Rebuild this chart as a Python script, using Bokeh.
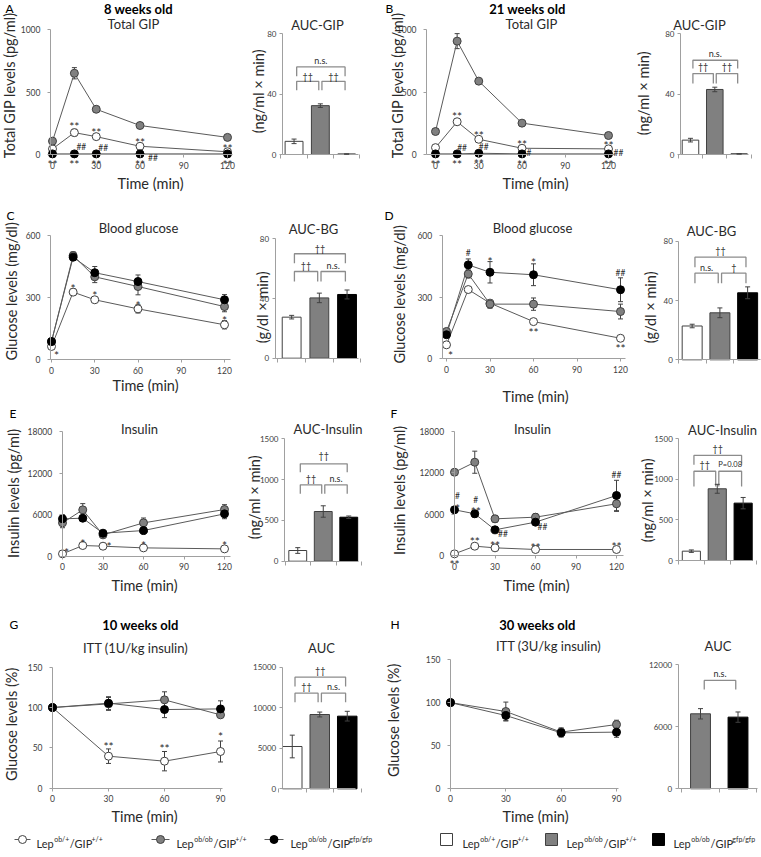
import types
from bokeh.plotting import figure
from bokeh.models import (ColumnDataSource, Whisker, LabelSet, Label, FixedTicker,
                          Range1d, TeeHead)
from bokeh.layouts import column, row
from bokeh.embed import file_html
from bokeh.resources import INLINE
from bokeh.core.properties import value

# ======================= DATA =======================
t_ogtt = [0, 15, 30, 60, 120]
t_itt = [0, 30, 60, 90]
ogtt_xticks = [0, 30, 60, 90, 120]
itt_xticks = [0, 30, 60, 90]

geno_sup = [("ob/+", "+/+"), ("ob/ob", "+/+"), ("ob/ob", "gfp/gfp")]

# A: total GIP, 8 weeks (pg/ml)
gip8_w = [45, 175, 143, 66, 22]
gip8_w_se = [8, 27, 10, 6, 5]
gip8_g = [107, 650, 362, 232, 137]
gip8_g_se = [10, 45, 22, 10, 8]
gip8_b = [5, 5, 5, 5, 5]
gip8_b_se = [1, 1, 1, 1, 1]
auc_gip8 = [8.7, 32.3, 0.3]
auc_gip8_se = [1.5, 1.2, 0.1]

# B: total GIP, 21 weeks
gip21_w = [55, 262, 122, 50, 45]
gip21_w_se = [5, 15, 8, 5, 5]
gip21_g = [184, 907, 587, 251, 152]
gip21_g_se = [12, 60, 22, 10, 8]
gip21_b = [5, 5, 10, 5, 5]
gip21_b_se = [1, 1, 2, 1, 1]
auc_gip21 = [9.5, 43.0, 0.4]
auc_gip21_se = [1.2, 1.5, 0.1]

# C: blood glucose, 8 weeks (mg/dl)
bg8_w = [63, 326, 289, 245, 168]
bg8_w_se = [5, 15, 12, 20, 20]
bg8_g = [87, 503, 400, 353, 256]
bg8_g_se = [8, 18, 28, 40, 25]
bg8_b = [87, 495, 420, 377, 289]
bg8_b_se = [8, 15, 30, 32, 25]
auc_bg8 = [27.5, 40.4, 42.7]
auc_bg8_se = [1.2, 3.2, 3.0]

# D: blood glucose, 21 weeks
bg21_w = [68, 337, 271, 181, 100]
bg21_w_se = [5, 12, 12, 10, 6]
bg21_g = [133, 413, 266, 266, 230]
bg21_g_se = [10, 20, 20, 30, 36]
bg21_b = [117, 457, 421, 409, 336]
bg21_b_se = [10, 29, 52, 53, 58]
auc_bg21 = [22.8, 31.7, 45.2]
auc_bg21_se = [1.2, 3.3, 4.0]

# E: insulin, 8 weeks (pg/ml)
ins8_w = [340, 1540, 1444, 1203, 1059]
ins8_w_se = [80, 250, 150, 150, 100]
ins8_g = [4812, 6690, 3080, 4812, 6737]
ins8_g_se = [700, 900, 300, 700, 700]
ins8_b = [5390, 5486, 3320, 3705, 6112]
ins8_b_se = [600, 400, 300, 300, 700]
auc_ins8 = [131, 609, 539]
auc_ins8_se = [35, 70, 15]

# F: insulin, 21 weeks
ins21_w = [240, 1350, 1110, 870, 870]
ins21_w_se = [50, 150, 150, 100, 100]
ins21_g = [12060, 13510, 5310, 5550, 7490]
ins21_g_se = [200, 1600, 500, 500, 1100]
ins21_b = [6620, 6040, 3720, 4830, 8690]
ins21_b_se = [300, 500, 300, 400, 2200]
auc_ins21 = [115, 884, 707]
auc_ins21_se = [15, 55, 70]

# G: ITT 1U/kg, 10 weeks (%)
itt10_w = [100, 39.7, 33.5, 45.5]
itt10_w_se = [0, 9, 12, 13]
itt10_g = [100, 104.5, 109.5, 90.9]
itt10_g_se = [0, 8, 10, 3]
itt10_b = [100, 105.4, 97.5, 98.3]
itt10_b_se = [0, 8, 10, 10]
auc_itt10 = [5219, 9165, 8960]
auc_itt10_se = [1400, 300, 600]

# H: ITT 3U/kg, 30 weeks
itt30_g = [100, 89.6, 65.5, 74.4]
itt30_g_se = [0, 11, 5, 5]
itt30_b = [100, 84.9, 64.7, 65.5]
itt30_b_se = [0, 6, 5, 6]
auc_itt30 = [7258, 6935]
auc_itt30_se = [500, 500]

gip_yticks = [0, 500, 1000]
auc40_yticks = [0, 40, 80]
bg_yticks = [0, 300, 600]
ins_yticks = [0, 6000, 12000, 18000]
auc_ins_yticks = [0, 500, 1000, 1500]
itt_yticks = [0, 50, 100, 150]
auc_itt10_yticks = [0, 5000, 10000, 15000]
auc_itt30_yticks = [0, 6000, 12000]

# significance marks: (series, time, text, dx px, dy px up)
sig_A = [("w", 15, "**", 0, 10), ("w", 30, "**", 0, 8), ("w", 60, "**", 0, 7), ("w", 120, "**", 0, 7),
         ("b", 0, "**", 0, -7), ("b", 15, "**", 0, -7), ("b", 30, "**", 0, -7), ("b", 60, "**", 0, -7),
         ("b", 120, "**", 0, -7), ("b", 15, "##", 7, 7), ("b", 30, "##", 7, 6), ("b", 60, "##", 13, -4)]
sig_B = [("w", 15, "**", 0, 9), ("w", 30, "**", 0, 7), ("w", 60, "**", 0, 7), ("w", 120, "**", 0, 7),
         ("b", 0, "**", 0, -7), ("b", 15, "**", 0, -7), ("b", 30, "**", 0, -7), ("b", 60, "**", 0, -7),
         ("b", 120, "**", 0, -7), ("b", 15, "##", 5, 6), ("b", 30, "##", 5, 6), ("b", 60, "#", 7, 1),
         ("b", 120, "##", 10, 1)]
sig_C = [("w", 0, "*", 5, -6), ("w", 15, "*", 0, 7), ("w", 30, "*", 0, 8), ("w", 60, "*", 0, 7),
         ("w", 120, "*", 0, 8)]
sig_D = [("b", 15, "#", 0, 12), ("b", 30, "*", 0, 14), ("b", 60, "*", 0, 16), ("b", 120, "##", 0, 17),
         ("w", 60, "**", 0, -7), ("w", 120, "**", 0, -7), ("w", 0, "*", 4, -7)]
sig_E = [("w", 0, "*", 4, 5), ("w", 15, "*", 0, 6), ("w", 30, "*", 6, 3), ("w", 60, "*", 0, 6),
         ("w", 120, "*", 0, 7)]
sig_F = [("b", 0, "#", 3, 14), ("b", 0, "*", 3, 5), ("b", 15, "#", 1, 14), ("b", 15, "**", 1, 6),
         ("b", 30, "##", 8, -4), ("b", 60, "##", 7, -5), ("b", 120, "##", 0, 20),
         ("w", 0, "**", 0, -7), ("w", 15, "**", 0, 8), ("w", 30, "**", 0, 6), ("w", 60, "**", 0, 5),
         ("w", 120, "**", 0, 6)]
sig_G = [("w", 30, "**", 0, 13), ("w", 60, "**", 0, 16), ("w", 90, "*", 0, 18)]

# brackets: (bar i, bar j, line height, leg bottom, text, text y)  -- in data units
br_A = [(0, 2, 57.9, 51.7, "n.s.", 62.3), (0, 1, 48.4, 42.4, "††", 51.7), (1, 2, 48.4, 42.4, "††", 51.7)]
br_B = [(0, 2, 62.3, 56.8, "n.s.", 66.7), (0, 1, 53.5, 46.9, "††", 57.9), (1, 2, 53.5, 46.9, "††", 57.9)]
br_C = [(0, 2, 70.0, 63.7, "††", 73.6), (0, 1, 58.1, 51.4, "††", 62.4), (1, 2, 58.1, 51.4, "n.s.", 62.4)]
br_D = [(0, 2, 69.2, 62.5, "††", 73.5), (0, 1, 58.4, 51.7, "n.s.", 62.5), (1, 2, 58.4, 51.7, "†", 62.5)]
br_E = [(0, 2, 1193, 1091, "††", 1290), (0, 1, 936, 826, "††", 1015), (1, 2, 936, 826, "n.s.", 1015)]
br_F = [(0, 2, 1295, 1180, "††", 1385), (0, 1, 1100, 912, "††", 1180), (1, 2, 1100, 912, "P=0.08", 1180)]
br_G = [(0, 2, 13768, 12618, "††", 14590), (0, 1, 11796, 10686, "††", 12618),
        (1, 2, 11796, 10686, "n.s.", 12618)]
br_H = [(0, 1, 10484, 9613, "n.s.", 11194)]

# ======================= STYLE =======================
FONT = "Lato"
TXT = "#2a2a2a"
TICK_TXT = "#404040"
AX_COL = "#a0a0a0"
EDGE = "#404040"
LINE_COL = "#5a5a5a"
BRK_COL = "#8c8c8c"
FILL = {"w": "#ffffff", "g": "#808080", "b": "#000000"}
BAR_EDGE = {"w": "#404040", "g": "#404040", "b": "#000000"}
ROT = 1.5707963
TITLE_FS = 13
AXLAB_FS = 14.5
HEAD_FS = 13


def make_panel(box, xcal, ycal, xspine=None, yspine=None):
    """box = page bbox of the figure; xcal/ycal = two (value, page px) pairs.
    The plotting frame covers the whole figure; axes are pinned inside it."""
    x, y, w, h = box
    sx = (xcal[3] - xcal[1]) / (xcal[2] - xcal[0])
    sy = (ycal[3] - ycal[1]) / (ycal[2] - ycal[0])

    def xv(px):
        return xcal[0] + (px - xcal[1]) / sx

    def yv(py):
        return ycal[0] + (py - ycal[1]) / sy

    kw = {}
    if xspine is None:
        kw = dict(x_axis_type=None, y_axis_type=None)
    p = figure(width=w, height=h, x_range=Range1d(xv(x), xv(x + w)), y_range=Range1d(yv(y + h), yv(y)),
               output_backend="svg", toolbar_location=None, title_location=None,
               min_border_left=0, min_border_right=0, min_border_top=0, min_border_bottom=0, **kw)
    p.outline_line_color = None
    if xspine is not None:
        p.grid.visible = False
    return types.SimpleNamespace(fig=p, xv=xv, yv=yv, xs=xspine, ys=yspine)


def put(P, px, py, txt, size, bold=False, align="center", angle=0.0, color=TXT, baseline="middle"):
    P.fig.add_layout(Label(x=P.xv(px), y=P.yv(py), text=txt, text_font=FONT,
                           text_font_size=f"{size}px",
                           text_font_style="bold" if bold else "normal",
                           text_align=align, text_baseline=baseline, angle=angle,
                           text_color=color))


def style_axes(P, xticks, yticks, bar=False):
    p = P.fig
    xs, ys = P.xs, P.ys
    ex = 1e-6 * (xs[1] - xs[0])
    ey = 1e-6 * (ys[1] - ys[0])
    p.xaxis.ticker = FixedTicker(ticks=xticks)
    p.yaxis.ticker = FixedTicker(ticks=yticks)
    p.xaxis.fixed_location = ys[0]
    p.xaxis.bounds = (xs[0] - ex, xs[1] + ex)
    p.yaxis.fixed_location = xs[0]
    p.yaxis.bounds = (ys[0] - ey, ys[1] + ey)
    for ax in list(p.xaxis) + list(p.yaxis):
        ax.axis_line_color = AX_COL
        ax.major_tick_line_color = AX_COL
        ax.minor_tick_line_color = None
        ax.major_tick_in = 0
        ax.major_tick_out = 3
        ax.major_label_text_font = FONT
        ax.major_label_text_font_size = "8.5px"
        ax.major_label_text_color = TICK_TXT
    p.yaxis.major_label_standoff = 7
    p.xaxis.major_label_standoff = 4
    if bar:
        p.xaxis.major_tick_out = 4
        p.xaxis.major_label_overrides = {k: "" for k in xticks}
        p.yaxis.major_label_standoff = 3
        p.yaxis.major_label_text_font_size = "8px"


def whisker(p, xs, vals, se, level="underlay"):
    src = ColumnDataSource(dict(x=list(xs), lo=[v - e for v, e in zip(vals, se)],
                                hi=[v + e for v, e in zip(vals, se)]))
    p.add_layout(Whisker(source=src, base="x", lower="lo", upper="hi", dimension="height",
                         line_color=EDGE, line_width=1, level=level,
                         upper_head=TeeHead(size=5, line_color=EDGE, line_width=1),
                         lower_head=TeeHead(size=5, line_color=EDGE, line_width=1)))


def draw_lines(P, t, series, sigs, xticks, yticks):
    p = P.fig
    style_axes(P, xticks, yticks)
    for key, vals, se in series:
        p.line(t, vals, line_color=LINE_COL, line_width=1)
    for key, vals, se in series:
        whisker(p, t, vals, se)
    for key, vals, se in series:
        p.scatter(t, vals, marker="circle", size=8, fill_color=FILL[key],
                  line_color=("#000000" if key == "b" else EDGE), line_width=1)
    smap = {k: v for k, v, s in series}
    xs, ys, tx, dx, dy, fs = [], [], [], [], [], []
    for key, tt, txt, ox, oy in sigs:
        star = "*" in txt
        xs.append(tt)
        ys.append(smap[key][t.index(tt)])
        tx.append(txt)
        dx.append(ox)
        dy.append(oy - (3.5 if star else 0))
        fs.append("12px" if star else "8.5px")
    if sigs:
        src = ColumnDataSource(dict(x=xs, y=ys, text=tx, dx=dx, dy=dy, fs=fs))
        p.add_layout(LabelSet(source=src, x="x", y="y", text="text", x_offset="dx", y_offset="dy",
                              text_font=value(FONT), text_font_size="fs", text_align="center",
                              text_baseline="middle", text_color=TXT))


def draw_bars(P, vals, se, keys, brackets, yticks, width=0.68):
    p = P.fig
    style_axes(P, list(range(len(vals) + 1)), yticks, bar=True)
    xc = [i + 0.5 for i in range(len(vals))]
    src = ColumnDataSource(dict(x=xc, top=vals, fill=[FILL[k] for k in keys],
                                edge=[BAR_EDGE[k] for k in keys]))
    p.vbar(x="x", top="top", bottom=0, width=width, fill_color="fill", line_color="edge",
           line_width=1, source=src)
    whisker(p, xc, vals, se, level="overlay")
    for i, j, h, leg, txt, ty in brackets:
        xa = xc[i] + (0.1 if i == 0 else 0.06)
        xb = xc[j] - 0.06
        p.line([xa, xa, xb, xb], [leg, h, h, leg], line_color=BRK_COL, line_width=1.3)
        p.add_layout(Label(x=(xa + xb) / 2, y=ty, text=txt, text_font=FONT,
                           text_font_size=("7.5px" if len(txt) > 4 else "9px"),
                           text_align="center", text_baseline="middle", text_color=TXT))


def headers(P, letter, lx, ly, title, tx, ty, ylab=None, yx=None, yy=None, xlab_xy=None,
            sub=None, sx=None):
    put(P, lx, ly, letter, 12, align="left", color="#000000")
    if sub:
        put(P, sx, ly, sub, HEAD_FS, bold=True, color="#000000")
    put(P, tx, ty, title, TITLE_FS)
    if ylab:
        put(P, yx, yy, ylab, AXLAB_FS, angle=ROT)
    if xlab_xy:
        put(P, xlab_xy[0], xlab_xy[1], "Time (min)", AXLAB_FS)


# ======================= ROW 1 (A, B) =======================
PA = make_panel((0, 0, 246, 208), (0, 52, 120, 227), (0, 154, 1000, 29), (-1.4, 123.4), (0, 1000))
draw_lines(PA, t_ogtt, [("w", gip8_w, gip8_w_se), ("g", gip8_g, gip8_g_se), ("b", gip8_b, gip8_b_se)],
           sig_A, ogtt_xticks, gip_yticks)
headers(PA, "A", 5, 8, "Total GIP", 133, 23.5, "Total GIP levels  (pg/ml)", 9, 83, (150, 183),
        sub="8 weeks old", sx=138)

PAb = make_panel((246, 0, 134, 208), (1, 306.7, 2, 333), (0, 154, 80, 33), (0.06, 2.95), (0, 80))
draw_bars(PAb, auc_gip8, auc_gip8_se, ["w", "g", "b"], br_A, auc40_yticks)
put(PAb, 317, 24, "AUC-GIP", TITLE_FS)
put(PAb, 258, 89, "(ng/ml  × min)", AXLAB_FS, angle=ROT)

PB = make_panel((380, 0, 252, 208), (0, 435, 120, 608), (0, 154, 1000, 29), (-6.2, 124.9), (0, 1000))
draw_lines(PB, t_ogtt, [("w", gip21_w, gip21_w_se), ("g", gip21_g, gip21_g_se), ("b", gip21_b, gip21_b_se)],
           sig_B, ogtt_xticks, gip_yticks)
headers(PB, "B", 385, 8, "Total GIP", 531, 23.5, "Total GIP levels  (pg/ml)", 397, 83, (535, 183),
        sub="21 weeks old", sx=527)

PBb = make_panel((632, 0, 129, 208), (0, 677.8, 3, 750.8), (0, 154, 80, 33), (0.09, 2.9), (0, 80))
draw_bars(PBb, auc_gip21, auc_gip21_se, ["w", "g", "b"], br_B, auc40_yticks)
put(PBb, 699, 24, "AUC-GIP", TITLE_FS)
put(PBb, 643, 91, "(ng/ml  × min)", AXLAB_FS, angle=ROT)

# ======================= ROW 2 (C, D) =======================
PC = make_panel((0, 208, 246, 197), (0, 51, 120, 224), (0, 359, 600, 235), (-0.7, 124.2), (0, 600))
draw_lines(PC, t_ogtt, [("w", bg8_w, bg8_w_se), ("g", bg8_g, bg8_g_se), ("b", bg8_b, bg8_b_se)],
           sig_C, ogtt_xticks, bg_yticks)
headers(PC, "C", 6, 215, "Blood glucose", 138, 227, "Glucose levels  (mg/dl)", 11, 289, (145, 385))

PCb = make_panel((246, 208, 134, 197), (1, 305, 2, 332.7), (0, 357.7, 80, 238.3), (-0.1, 2.91), (0, 80))
draw_bars(PCb, auc_bg8, auc_bg8_se, ["w", "g", "b"], br_C, auc40_yticks)
put(PCb, 313, 228, "AUC-BG", TITLE_FS)
put(PCb, 262, 305, "(g/dl  × min)", AXLAB_FS, angle=ROT)

PD = make_panel((380, 208, 252, 197), (0, 446, 120, 620), (0, 358.3, 600, 235), (-2.97, 123.4), (0, 600))
draw_lines(PD, t_ogtt, [("w", bg21_w, bg21_w_se), ("g", bg21_g, bg21_g_se), ("b", bg21_b, bg21_b_se)],
           sig_D, ogtt_xticks, bg_yticks)
headers(PD, "D", 384, 215, "Blood glucose", 532, 227, "Glucose levels  (mg/dl)", 399, 292, (535, 396))

PDb = make_panel((632, 208, 129, 197), (0, 677.8, 3, 761), (0, 359.3, 80, 240.7), (0.02, 2.97), (0, 80))
draw_bars(PDb, auc_bg21, auc_bg21_se, ["w", "g", "b"], br_D, auc40_yticks, width=0.72)
put(PDb, 711, 230, "AUC-BG", TITLE_FS)
put(PDb, 650, 305, "(g/dl  × min)", AXLAB_FS, angle=ROT)

# ======================= ROW 3 (E, F) =======================
PE = make_panel((0, 405, 246, 207), (0, 62, 120, 224), (0, 555.7, 18000, 431), (-0.2, 124.4), (0, 18000))
draw_lines(PE, t_ogtt, [("w", ins8_w, ins8_w_se), ("g", ins8_g, ins8_g_se), ("b", ins8_b, ins8_b_se)],
           sig_E, ogtt_xticks, ins_yticks)
headers(PE, "E", 9, 413, "Insulin", 139, 428, "Insulin levels  (pg/ml)", 13, 491, (144, 585))

PEb = make_panel((246, 405, 134, 207), (0, 284.5, 3, 361), (0, 560.7, 1500, 438.3), (-0.02, 2.88), (0, 1500))
draw_bars(PEb, auc_ins8, auc_ins8_se, ["w", "g", "b"], br_E, auc_ins_yticks, width=0.7)
put(PEb, 327.5, 428, "AUC-Insulin", TITLE_FS)
put(PEb, 254, 495, "(ng/ml  × min)", AXLAB_FS, angle=ROT)

PF = make_panel((380, 405, 252, 207), (0, 454, 120, 616), (0, 555, 18000, 430.7), (-0.3, 125.2), (0, 18000))
draw_lines(PF, t_ogtt, [("w", ins21_w, ins21_w_se), ("g", ins21_g, ins21_g_se), ("b", ins21_b, ins21_b_se)],
           sig_F, ogtt_xticks, ins_yticks)
headers(PF, "F", 390, 413, "Insulin", 532, 428, "Insulin levels  (pg/ml)", 399, 488, (536, 585))

PFb = make_panel((632, 405, 129, 207), (0, 677.9, 3, 755.6), (0, 560, 1500, 438.3), (0.015, 2.85), (0, 1500))
draw_bars(PFb, auc_ins21, auc_ins21_se, ["w", "g", "b"], br_F, auc_ins_yticks, width=0.7)
put(PFb, 722, 429, "AUC-Insulin", TITLE_FS)
put(PFb, 647, 498, "(ng/ml  × min)", AXLAB_FS, angle=ROT)

# ======================= ROW 4 (G, H) =======================
R4H = 216
PG = make_panel((0, 612, 246, R4H), (0, 52, 90, 220), (0, 787.7, 150, 666.7), (0, 91), (0, 150))
draw_lines(PG, t_itt, [("w", itt10_w, itt10_w_se), ("g", itt10_g, itt10_g_se), ("b", itt10_b, itt10_b_se)],
           sig_G, itt_xticks, itt_yticks)
headers(PG, "G", 9, 624, "ITT (1U/kg insulin)", 135, 647, "Glucose levels  (%)", 11, 722, (144, 816),
        sub="10 weeks old", sx=140)

PGb = make_panel((246, 612, 134, R4H), (1, 305.5, 2, 333), (0, 788.3, 15000, 666.7), (0.135, 2.8), (0, 15000))
draw_bars(PGb, auc_itt10, auc_itt10_se, ["w", "g", "b"], br_G, auc_itt10_yticks, width=0.71)
put(PGb, 321, 647, "AUC", TITLE_FS)

PH = make_panel((380, 612, 252, R4H), (0, 450, 90, 616), (0, 787.7, 150, 659.3), (0, 91), (0, 150))
draw_lines(PH, t_itt, [("g", itt30_g, itt30_g_se), ("b", itt30_b, itt30_b_se)],
           [], itt_xticks, itt_yticks)
headers(PH, "H", 390, 624, "ITT (3U/kg insulin)", 548, 645, "Glucose levels  (%)", 392.5, 718, (535, 816),
        sub="30 weeks old", sx=537)

PHb = make_panel((632, 612, 129, R4H), (0, 681.25, 2, 756.25), (0, 788.3, 12000, 664.3), (-0.095, 2.01),
                 (0, 12000))
draw_bars(PHb, auc_itt30, auc_itt30_se, ["g", "b"], br_H, auc_itt30_yticks, width=0.53)
put(PHb, 717.5, 645, "AUC", TITLE_FS)

# ======================= LEGEND =======================
LTOP = 612 + R4H
PL = make_panel((0, LTOP, 761, 857 - LTOP), (0, 0, 761, 761), (0, 857, 10, 847))
LATO_W = {"L": 0.48, "e": 0.53, "p": 0.57, "o": 0.57, "b": 0.57, "/": 0.38, "+": 0.58,
          "G": 0.71, "I": 0.27, "P": 0.59, "g": 0.5, "f": 0.33}


def tw(s, size):
    return sum(LATO_W.get(c, 0.55) for c in s) * size


def lep_text(P, x, base_y, sup1, sup2):
    for s, sup in [("Lep", False), (sup1, True), ("/GIP", False), (sup2, True)]:
        size = 7 if sup else 11
        put(P, x, base_y - (5 if sup else 0), s, size, align="left", baseline="alphabetic")
        x += tw(s, size) + (0.8 if sup else 0.3)


LY = 839
line_items = [(14, 30, "w", 36), (151, 169, "g", 176), (264, 283, "b", 290)]
for (xa, xb, key, xt), (s1, s2) in zip(line_items, geno_sup):
    PL.fig.line([PL.xv(xa), PL.xv(xb)], [PL.yv(LY), PL.yv(LY)], line_color=LINE_COL, line_width=1)
    PL.fig.scatter([PL.xv((xa + xb) / 2)], [PL.yv(LY)], marker="circle", size=8,
                   fill_color=FILL[key], line_color=("#000000" if key == "b" else EDGE), line_width=1)
    lep_text(PL, xt, LY + 4, s1, s2)

sq_items = [(446, "w", 462), (551, "g", 566), (658, "b", 673)]
for (xs, key, xt), (s1, s2) in zip(sq_items, geno_sup):
    PL.fig.scatter([PL.xv(xs)], [PL.yv(LY)], marker="square", size=12,
                   fill_color=FILL[key], line_color=BAR_EDGE[key], line_width=1)
    lep_text(PL, xt, LY + 4, s1, s2)

layout = column(
    row(PA.fig, PAb.fig, PB.fig, PBb.fig, spacing=0),
    row(PC.fig, PCb.fig, PD.fig, PDb.fig, spacing=0),
    row(PE.fig, PEb.fig, PF.fig, PFb.fig, spacing=0),
    row(PG.fig, PGb.fig, PH.fig, PHb.fig, spacing=0),
    PL.fig,
    spacing=0,
)

with open("out.html", "w") as f:
    f.write(file_html(layout, INLINE))
